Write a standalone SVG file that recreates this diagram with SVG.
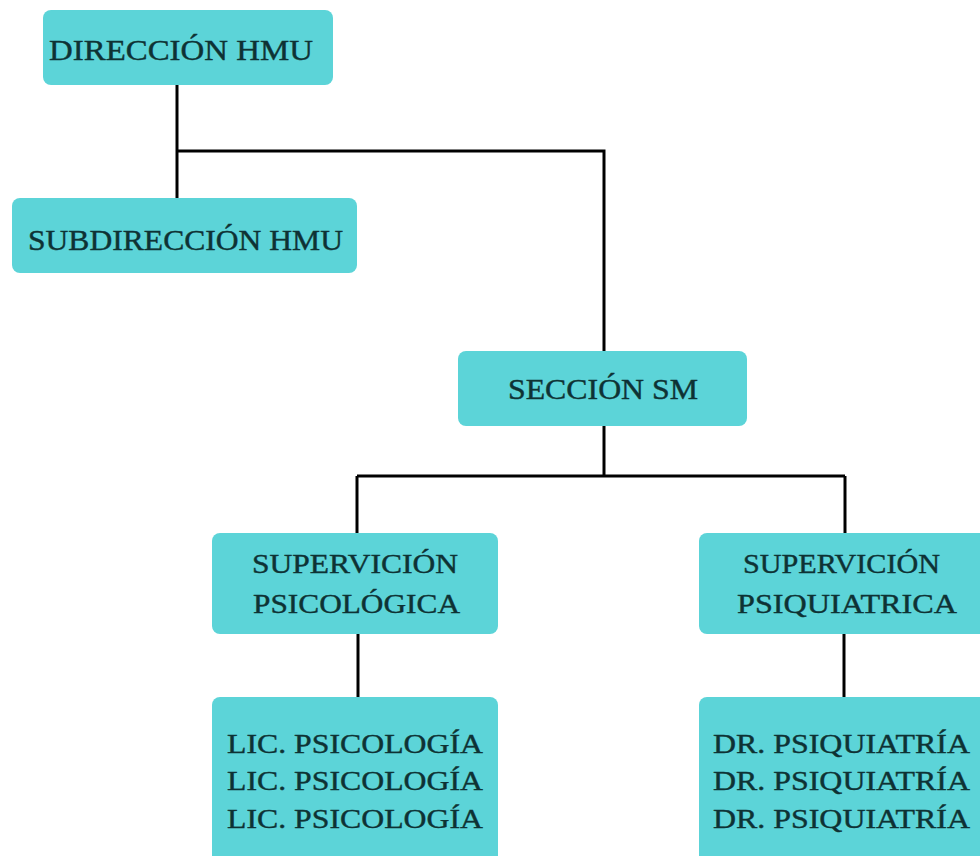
<svg xmlns="http://www.w3.org/2000/svg" width="980" height="856" viewBox="0 0 980 856">
<style>
.box{fill:#5cd4d8;}
.t{font-family:"Liberation Serif","Times New Roman",serif;fill:#0e3234;stroke:#0e3234;stroke-width:0.4;}
.big{font-size:30px;}
.sm{font-size:28px;}
.ln{stroke:#000;stroke-width:3;fill:none;}
</style>
<rect width="980" height="856" fill="#ffffff"/>
<g id="connectors">
<path class="ln" d="M177 84 V199"/>
<path class="ln" d="M177 151 H604 V351"/>
<path class="ln" d="M604 426 V476"/>
<path class="ln" d="M357 476 H845"/>
<path class="ln" d="M357 476 V533"/>
<path class="ln" d="M845 476 V533"/>
<path class="ln" d="M358 633 V698"/>
<path class="ln" d="M844 633 V698"/>
</g>
<g id="direccion">
<rect class="box" x="43" y="10" width="290" height="75" rx="8"/>
<text class="t big" x="49" y="60" textLength="264" lengthAdjust="spacingAndGlyphs">DIRECCIÓN HMU</text>
</g>
<g id="subdireccion">
<rect class="box" x="12" y="198" width="345" height="75" rx="8"/>
<text class="t big" x="28" y="250" textLength="315" lengthAdjust="spacingAndGlyphs">SUBDIRECCIÓN HMU</text>
</g>
<g id="seccion">
<rect class="box" x="458" y="351" width="289" height="75" rx="8"/>
<text class="t big" x="508" y="399" textLength="190" lengthAdjust="spacingAndGlyphs">SECCIÓN SM</text>
</g>
<g id="sup-psicologica">
<rect class="box" x="212" y="533" width="286" height="101" rx="8"/>
<text class="t sm" x="252" y="573" textLength="206" lengthAdjust="spacingAndGlyphs">SUPERVICIÓN</text>
<text class="t sm" x="253" y="613" textLength="207" lengthAdjust="spacingAndGlyphs">PSICOLÓGICA</text>
</g>
<g id="sup-psiquiatrica">
<rect class="box" x="699" y="533" width="300" height="101" rx="8"/>
<text class="t sm" x="743" y="573" textLength="197" lengthAdjust="spacingAndGlyphs">SUPERVICIÓN</text>
<text class="t sm" x="737" y="613" textLength="220" lengthAdjust="spacingAndGlyphs">PSIQUIATRICA</text>
</g>
<g id="lic-psicologia">
<rect class="box" x="212" y="697" width="286" height="175" rx="8"/>
<text class="t sm" x="227" y="753" textLength="256" lengthAdjust="spacingAndGlyphs">LIC. PSICOLOGÍA</text>
<text class="t sm" x="227" y="790" textLength="256" lengthAdjust="spacingAndGlyphs">LIC. PSICOLOGÍA</text>
<text class="t sm" x="227" y="828" textLength="256" lengthAdjust="spacingAndGlyphs">LIC. PSICOLOGÍA</text>
</g>
<g id="dr-psiquiatria">
<rect class="box" x="699" y="697" width="300" height="175" rx="8"/>
<text class="t sm" x="713" y="753" textLength="257" lengthAdjust="spacingAndGlyphs">DR. PSIQUIATRÍA</text>
<text class="t sm" x="713" y="790" textLength="257" lengthAdjust="spacingAndGlyphs">DR. PSIQUIATRÍA</text>
<text class="t sm" x="713" y="828" textLength="257" lengthAdjust="spacingAndGlyphs">DR. PSIQUIATRÍA</text>
</g>
</svg>
